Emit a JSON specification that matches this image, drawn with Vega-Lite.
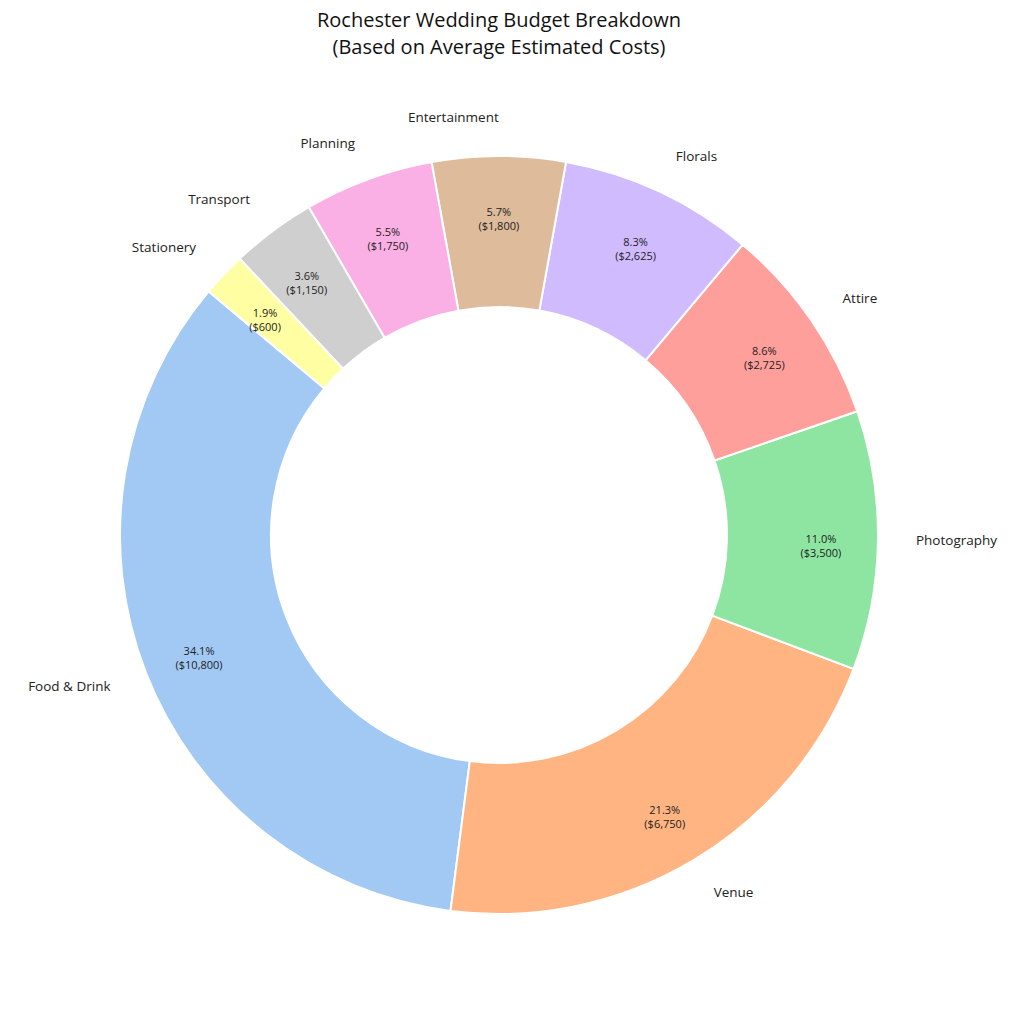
{
  "$schema": "https://vega.github.io/schema/vega-lite/v6.json",
  "width": 998,
  "height": 930,
  "autosize": {"type": "none"},
  "padding": {"top": 70, "left": 0, "right": 0, "bottom": 0},
  "background": "white",
  "title": {
    "text": ["Rochester Wedding Budget Breakdown", "(Based on Average Estimated Costs)"],
    "font": "Open Sans",
    "fontSize": 20,
    "fontWeight": "normal",
    "color": "#111111",
    "anchor": "middle",
    "offset": 12,
    "lineHeight": 27
  },
  "config": {"view": {"stroke": null}},
  "data": {
    "values": [
      {"category": "Food & Drink", "amount": 10800, "pct": "34.1%\n($10,800)"},
      {"category": "Venue", "amount": 6750, "pct": "21.3%\n($6,750)"},
      {"category": "Photography", "amount": 3500, "pct": "11.0%\n($3,500)"},
      {"category": "Attire", "amount": 2725, "pct": "8.6%\n($2,725)"},
      {"category": "Florals", "amount": 2625, "pct": "8.3%\n($2,625)"},
      {"category": "Entertainment", "amount": 1800, "pct": "5.7%\n($1,800)"},
      {"category": "Planning", "amount": 1750, "pct": "5.5%\n($1,750)"},
      {"category": "Transport", "amount": 1150, "pct": "3.6%\n($1,150)"},
      {"category": "Stationery", "amount": 600, "pct": "1.9%\n($600)"}
    ]
  },
  "encoding": {
    "theta": {"field": "amount", "type": "quantitative", "stack": true, "scale": {"range": [-0.872665, 5.410520]}},
    "order": {"field": "amount", "sort": "ascending"}
  },
  "layer": [
    {
      "mark": {"type": "arc", "outerRadius": 379, "innerRadius": 228, "stroke": "white", "strokeWidth": 2},
      "encoding": {
        "color": {
          "field": "category",
          "type": "nominal",
          "legend": null,
          "scale": {
            "domain": ["Food & Drink", "Venue", "Photography", "Attire", "Florals", "Entertainment", "Planning", "Transport", "Stationery"],
            "range": ["#a1c9f4", "#ffb482", "#8de5a1", "#ff9f9b", "#d0bbff", "#debb9b", "#fab0e4", "#cfcfcf", "#fffea3"]
          }
        }
      }
    },
    {
      "mark": {"type": "text", "radius": 322, "font": "Open Sans", "fontSize": 11, "color": "#222222", "lineBreak": "\n", "lineHeight": 14, "align": "center", "baseline": "middle"},
      "encoding": {"text": {"field": "pct"}}
    },
    {
      "mark": {"type": "text", "radius": 417, "font": "Open Sans", "fontSize": 13.5, "color": "#222222", "align": "left", "baseline": "middle"},
      "encoding": {
        "text": {
          "condition": {"test": "indexof(['Venue','Photography','Attire','Florals'], datum.category) >= 0", "field": "category"},
          "value": ""
        }
      }
    },
    {
      "mark": {"type": "text", "radius": 417, "font": "Open Sans", "fontSize": 13.5, "color": "#222222", "align": "right", "baseline": "middle"},
      "encoding": {
        "text": {
          "condition": {"test": "indexof(['Venue','Photography','Attire','Florals'], datum.category) < 0", "field": "category"},
          "value": ""
        }
      }
    }
  ]
}
